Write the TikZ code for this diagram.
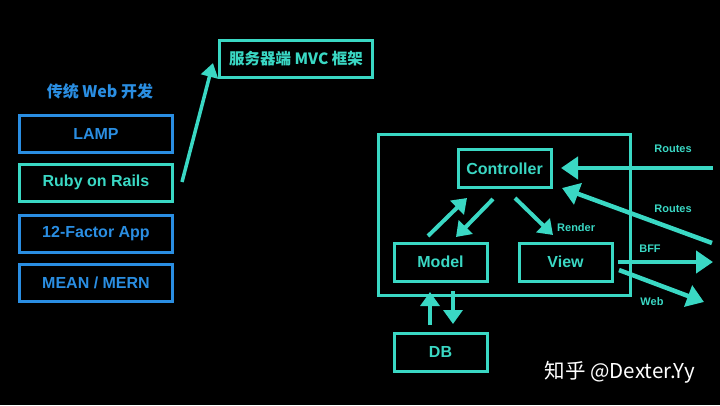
\documentclass[tikz,border=0pt]{standalone}
\usepackage{fontspec}
\setmainfont{Liberation Sans}
\newfontfamily\cjk{Noto Sans CJK SC}
\usetikzlibrary{arrows.meta}
\definecolor{teal1}{HTML}{3AD8C4}
\definecolor{blue1}{HTML}{2A8EE2}
\tikzset{
  box/.style={draw=#1, line width=3pt, minimum height=37pt, text=#1, font=\bfseries\fontsize{16}{18}\selectfont, inner sep=0pt},
  mbox/.style={draw=teal1, line width=3pt, minimum width=93pt, minimum height=38pt, text=teal1, font=\bfseries\fontsize{16}{18}\selectfont, inner sep=0pt},
  arr/.style={draw=teal1, line width=4.5pt, -{Triangle[length=17pt,width=22pt]}},
  iarr/.style={draw=teal1, line width=4pt, -{Triangle[length=14pt,width=19pt]}},
  lbl/.style={text=teal1, font=\bfseries\fontsize{11}{13}\selectfont, inner sep=0pt},
}
\begin{document}
\begin{tikzpicture}[x=1pt,y=-1pt]
\fill[black] (0,0) rectangle (720,405);
\useasboundingbox (0,0) rectangle (720,405);
% left column
\node[text=blue1, font=\cjk\bfseries\fontsize{16}{18}\selectfont] (title) at (100,91) {传统 Web 开发};
\node[box=blue1, minimum width=153pt] (lamp) at (96,133.5) {LAMP};
\node[box=teal1, minimum width=153pt] (ror) at (96,182.5) {Ruby on Rails};
\node[box=blue1, minimum width=153pt] (factor) at (96,233.5) {12-Factor App};
\node[box=blue1, minimum width=153pt] (mean) at (96,282.5) {MEAN / MERN};
\node[box=teal1, minimum width=153pt, font=\cjk\bfseries\fontsize{15.5}{17}\selectfont] (mvc) at (296,58.5) {服务器端 MVC 框架};
\coordinate (rorS) at (182,182);
\coordinate (mvcT) at (213,63);
\draw[iarr, line width=3.5pt, -{Triangle[length=14pt,width=17pt]}] (rorS) -- (mvcT);
% right
\node[draw=teal1, line width=3pt, minimum width=252pt, minimum height=161pt, inner sep=0pt] (outer) at (504.5,215) {};
\node[mbox] (ctrl) at (504.5,168.5) {Controller};
\node[mbox] (model) at (440.5,262) {Model};
\node[mbox] (view) at (565.5,262) {View};
\node[mbox] (db) at (440.5,352) {DB};
% internal arrows
\coordinate (m1) at (428,236); \coordinate (c1) at (467,198);
\coordinate (c2) at (493,199); \coordinate (m2) at (456,237);
\coordinate (c3) at (515,198); \coordinate (v3) at (553,235);
\coordinate (d1) at (430,325); \coordinate (m4) at (430,292);
\coordinate (m5) at (453,291); \coordinate (d5) at (453,324);
\draw[iarr] (m1) -- (c1);
\draw[iarr] (c2) -- (m2);
\draw[iarr] (c3) -- (v3);
\draw[iarr] (d1) -- (m4);
\draw[iarr] (m5) -- (d5);
\node[lbl, anchor=west] (render) at (557,228) {Render};
% external arrows
\coordinate (r1) at (713,168); \coordinate (c6) at (561,168);
\coordinate (r2) at (712,243); \coordinate (c7) at (562,188);
\coordinate (v8) at (618,262); \coordinate (b8) at (713,262);
\coordinate (v9) at (619,270); \coordinate (w9) at (704,302);
\draw[arr] (r1) -- (c6);
\draw[arr] (r2) -- (c7);
\draw[arr] (v8) -- (b8);
\draw[arr] (v9) -- (w9);
\node[lbl] (routes1) at (673,149) {Routes};
\node[lbl] (routes2) at (673,209) {Routes};
\node[lbl] (bff) at (650,249) {BFF};
\node[lbl] (web) at (652,302) {Web};
% watermark
\node[text=white, font=\cjk\fontsize{20.5}{22}\selectfont, inner sep=0pt] (wm) at (620,372) {知乎 @Dexter.Yy};
\end{tikzpicture}
\end{document}
